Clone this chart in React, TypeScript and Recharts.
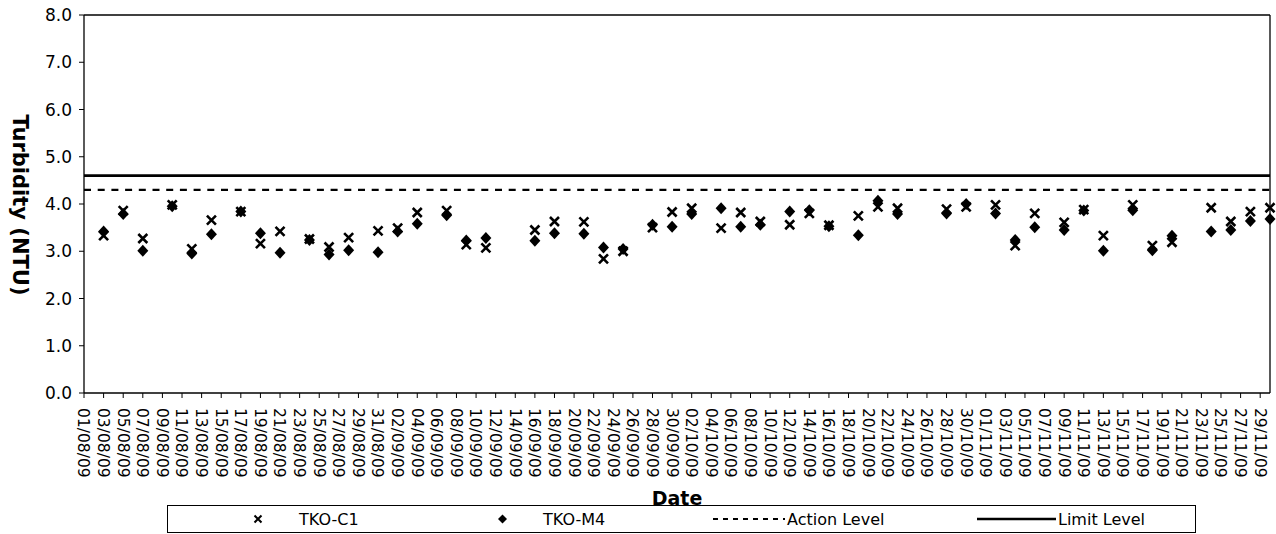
import { ScatterChart, Scatter, XAxis, YAxis, ReferenceLine } from 'recharts';

// sampling dates (dd/mm/yy) and turbidity readings in NTU
const START_DATE = '01/08/09';
const END_DATE = '30/11/09';
const SAMPLE_DATES = [
  '03/08/09', '05/08/09', '07/08/09', '10/08/09', '12/08/09', '14/08/09', '17/08/09', '19/08/09',
  '21/08/09', '24/08/09', '26/08/09', '28/08/09', '31/08/09', '02/09/09', '04/09/09', '07/09/09',
  '09/09/09', '11/09/09', '16/09/09', '18/09/09', '21/09/09', '23/09/09', '25/09/09', '28/09/09',
  '30/09/09', '02/10/09', '05/10/09', '07/10/09', '09/10/09', '12/10/09', '14/10/09', '16/10/09',
  '19/10/09', '21/10/09', '23/10/09', '28/10/09', '30/10/09', '02/11/09', '04/11/09', '06/11/09',
  '09/11/09', '11/11/09', '13/11/09', '16/11/09', '18/11/09', '20/11/09', '24/11/09', '26/11/09',
  '28/11/09', '30/11/09',
];
const TKO_C1 = [
  3.33, 3.86, 3.27, 3.98, 3.05, 3.66, 3.84, 3.16, 3.42, 3.26, 3.09, 3.29, 3.43, 3.49, 3.82, 3.86,
  3.14, 3.07, 3.45, 3.63, 3.62, 2.84, 3.0, 3.5, 3.83, 3.91, 3.49, 3.82, 3.63, 3.56, 3.8, 3.55,
  3.75, 3.94, 3.91, 3.89, 3.94, 3.98, 3.12, 3.8, 3.61, 3.88, 3.33, 3.98, 3.12, 3.19, 3.92, 3.63,
  3.84, 3.92,
];
const TKO_M4 = [
  3.42, 3.79, 3.01, 3.95, 2.95, 3.36, 3.84, 3.38, 2.97, 3.24, 2.93, 3.02, 2.98, 3.42, 3.58, 3.76,
  3.23, 3.28, 3.22, 3.38, 3.37, 3.08, 3.05, 3.56, 3.52, 3.79, 3.91, 3.52, 3.56, 3.84, 3.87, 3.53,
  3.34, 4.07, 3.79, 3.8, 4.0, 3.8, 3.24, 3.51, 3.45, 3.86, 3.01, 3.87, 3.02, 3.33, 3.42, 3.45,
  3.64, 3.68,
];
const ACTION_LEVEL = 4.3;
const LIMIT_LEVEL = 4.6;
const Y_TICKS = [0, 1, 2, 3, 4, 5, 6, 7, 8];
const TICK_STEP_DAYS = 2;

const FONT = '"DejaVu Sans", Verdana, sans-serif';
const DAY_MS = 86400000;

const parse = (s: string) => {
  const [d, m, y] = s.split('/').map(Number);
  return Date.UTC(2000 + y, m - 1, d);
};
const t0 = parse(START_DATE);
const toDay = (s: string) => Math.round((parse(s) - t0) / DAY_MS);
const endDay = toDay(END_DATE);
const pad = (n: number) => String(n).padStart(2, '0');
const fmtDay = (n: number) => {
  const dt = new Date(t0 + n * DAY_MS);
  return `${pad(dt.getUTCDate())}/${pad(dt.getUTCMonth() + 1)}/${pad(dt.getUTCFullYear() % 100)}`;
};
const xTicks: number[] = [];
for (let d = 0; d < endDay; d += TICK_STEP_DAYS) xTicks.push(d);

const c1Data = SAMPLE_DATES.map((s, i) => ({ day: toDay(s), value: TKO_C1[i] }));
const m4Data = SAMPLE_DATES.map((s, i) => ({ day: toDay(s), value: TKO_M4[i] }));

// eslint-disable-next-line @typescript-eslint/no-explicit-any
const DateTick = ({ x, y, payload }: any) => (
  <text
    x={x} y={y} dx={8} dy="0.36em"
    transform={`rotate(90, ${x}, ${y})`}
    textAnchor="start" fontSize={15.5} fontFamily={FONT} fill="#000"
  >
    {fmtDay(payload.value)}
  </text>
);

// eslint-disable-next-line @typescript-eslint/no-explicit-any
const Cross = ({ cx, cy }: any) => (
  <path
    d={`M${cx - 4.5},${cy - 4.5}L${cx + 4.5},${cy + 4.5}M${cx - 4.5},${cy + 4.5}L${cx + 4.5},${cy - 4.5}`}
    stroke="#000" strokeWidth={2.6} fill="none"
  />
);

// eslint-disable-next-line @typescript-eslint/no-explicit-any
const Diamond = ({ cx, cy }: any) => (
  <path d={`M${cx},${cy - 6}L${cx + 5.5},${cy}L${cx},${cy + 6}L${cx - 5.5},${cy}Z`} fill="#000" />
);

// eslint-disable-next-line @typescript-eslint/no-explicit-any
const YTitle = ({ viewBox }: any) => {
  const x = viewBox.x + 21;
  const y = viewBox.y + viewBox.height / 2 + 1;
  return (
    <text x={x} y={y} dy="0.36em" transform={`rotate(90, ${x}, ${y})`} textAnchor="middle"
      fontSize={21} fontWeight="bold" fontFamily={FONT} fill="#000">
      Turbidity (NTU)
    </text>
  );
};

// eslint-disable-next-line @typescript-eslint/no-explicit-any
const XTitle = ({ viewBox }: any) => (
  <text x={viewBox.x + viewBox.width / 2} y={viewBox.y + 112} textAnchor="middle"
    fontSize={19} fontWeight="bold" fontFamily={FONT} fill="#000">
    Date
  </text>
);

const legendText = { fontSize: 16, fontFamily: FONT, color: '#000', whiteSpace: 'nowrap' as const };

function ChartLegend() {
  // left offsets are relative to the legend box
  const item = (left: number, w: number, sample: React.ReactNode, label: string, gap: number) => (
    <div style={{ position: 'absolute', left, top: 0, height: 26, display: 'flex', alignItems: 'center' }}>
      <svg width={w} height={26}>{sample}</svg>
      <span style={{ ...legendText, marginLeft: gap }}>{label}</span>
    </div>
  );
  return (
    <div style={{
      position: 'absolute', left: 167, top: 505, width: 1029, height: 28,
      border: '1px solid #000', boxSizing: 'border-box', background: '#fff',
    }}>
      {item(53, 75, <path d="M33.5,9.5L40.5,16.5M33.5,16.5L40.5,9.5" stroke="#000" strokeWidth={2} />, 'TKO-C1', 3)}
      {item(297, 75, <path d="M37.5,8.5L42,13L37.5,17.5L33,13Z" fill="#000" />, 'TKO-M4', 3)}
      {item(544, 73, <line x1={1} y1={13} x2={73} y2={13} stroke="#000" strokeWidth={1.8} strokeDasharray="5 5" />, 'Action Level', 2)}
      {item(809, 79, <line x1={0} y1={13} x2={79} y2={13} stroke="#000" strokeWidth={2.5} />, 'Limit Level', 2)}
    </div>
  );
}

export default function App() {
  return (
    <div style={{ position: 'absolute', left: 0, top: 0, width: 1276, height: 534, background: '#fff' }}>
      <ScatterChart width={1276} height={534} margin={{ top: 15, right: 6, bottom: 0, left: 0 }}>
        <XAxis
          type="number" dataKey="day" domain={[0, endDay]} ticks={xTicks} interval={0}
          height={141} tick={<DateTick />} tickSize={5}
          axisLine={{ stroke: '#000', strokeWidth: 1.3 }} tickLine={{ stroke: '#000' }}
          label={XTitle}
        />
        <YAxis
          type="number" dataKey="value" domain={[0, 8]} ticks={Y_TICKS} interval={0}
          width={84} tickSize={5} tickMargin={7}
          tickFormatter={(v: number) => v.toFixed(1)}
          tick={{ fontSize: 17, fill: '#000', fontFamily: FONT }}
          axisLine={{ stroke: '#000', strokeWidth: 1.3 }} tickLine={{ stroke: '#000' }}
          label={YTitle}
        />
        <ReferenceLine y={8} stroke="#000" strokeWidth={1.3} />
        <ReferenceLine x={endDay} stroke="#000" strokeWidth={1.3} />
        <ReferenceLine y={LIMIT_LEVEL} stroke="#000" strokeWidth={2.6} />
        <ReferenceLine y={ACTION_LEVEL} stroke="#000" strokeWidth={2.2} strokeDasharray="7 6.7" />
        <Scatter name="TKO-C1" data={c1Data} shape={Cross} isAnimationActive={false} />
        <Scatter name="TKO-M4" data={m4Data} shape={Diamond} isAnimationActive={false} />
      </ScatterChart>
      <ChartLegend />
    </div>
  );
}
